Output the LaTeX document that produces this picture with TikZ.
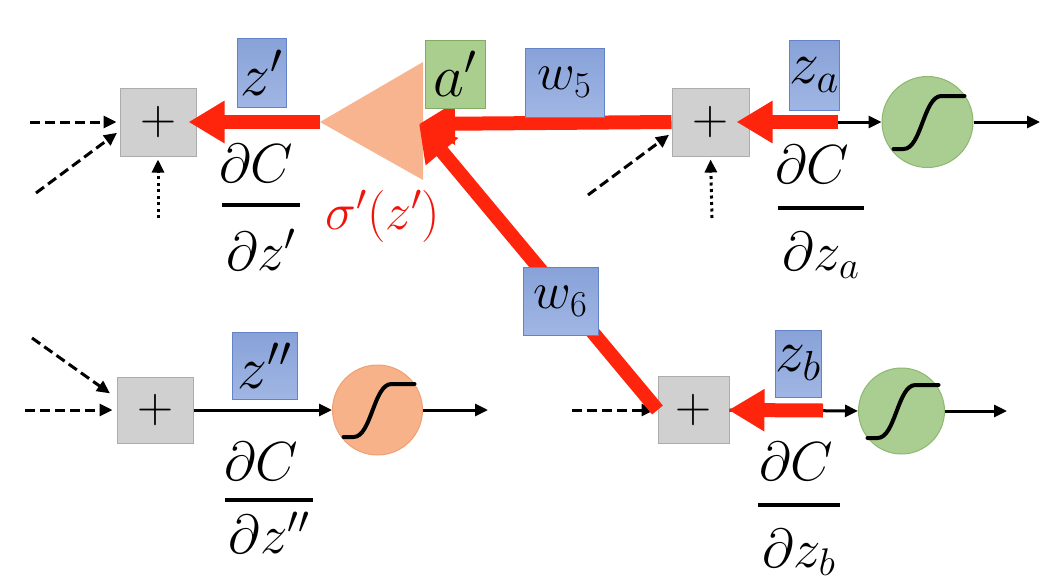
\RequirePackage{fix-cm}
\documentclass[tikz,border=0pt]{standalone}
\usetikzlibrary{arrows.meta,calc}
\definecolor{sumfill}{RGB}{208,208,208}
\definecolor{sumedge}{RGB}{172,172,172}
\definecolor{wtop}{RGB}{136,162,216}
\definecolor{wbot}{RGB}{160,182,228}
\definecolor{wedge}{RGB}{100,130,200}
\definecolor{afill}{RGB}{169,206,142}
\definecolor{aedge}{RGB}{128,172,100}
\definecolor{gcfill}{RGB}{170,205,145}
\definecolor{gcedge}{RGB}{140,184,112}
\definecolor{ocfill}{RGB}{247,178,138}
\definecolor{ocedge}{RGB}{238,160,115}
\definecolor{trifill}{RGB}{248,180,142}
\definecolor{bpred}{RGB}{255,36,12}
\definecolor{sigred}{RGB}{240,20,10}
\newcommand\mylab{\fontsize{60}{60}\selectfont}
\newcommand\mywlab{\fontsize{52}{52}\selectfont}
\newcommand\myfrac{\fontsize{55}{60}\selectfont}
\begin{document}
\begin{tikzpicture}[x=1pt,y=-1pt,
  sumbox/.style={draw=sumedge, fill=sumfill, line width=1pt, inner sep=0pt,
    minimum width=76pt, minimum height=68pt, font=\fontsize{50}{50}\selectfont},
  wbox/.style={draw=wedge, top color=wtop, bottom color=wbot, line width=1pt, inner sep=0pt},
  actbox/.style={draw=aedge, fill=afill, line width=1pt, inner sep=0pt},
  gcirc/.style={circle, draw=gcedge, fill=gcfill, line width=1pt, inner sep=0pt},
  ocirc/.style={circle, draw=ocedge, fill=ocfill, line width=1pt, inner sep=0pt},
  sigline/.style={line width=4pt, line cap=round},
  fwd/.style={line width=3pt, -{Triangle[length=13pt,width=12pt]}},
  dashedin/.style={fwd, dash pattern=on 10pt off 5pt},
  dottedin/.style={fwd, dash pattern=on 3pt off 3.5pt},
  back/.style={draw=bpred, line width=14pt, -{Triangle[length=36pt,width=40pt]}},
  numtext/.style={inner sep=0pt, font=\myfrac},
  dentext/.style={inner xsep=4pt, inner ysep=0pt, font=\myfrac},
  fracbar/.style={line width=4pt},
]
\useasboundingbox (0,0) rectangle (1060,581);

% summation units
\node[sumbox] (s1) at (158,122) {$+$};
\node[sumbox, minimum width=77pt] (s2) at (710.5,122) {$+$};
\node[sumbox, minimum width=71pt, minimum height=67pt] (s3) at (693.5,410) {$+$};
\node[sumbox, minimum height=66pt] (s4) at (155,410) {$+$};

% activation units
\node[gcirc, minimum size=91pt] (c2) at (927.5,122) {};
\node[gcirc, minimum size=86pt] (c3) at (901.5,411) {};
\node[ocirc, minimum size=90pt] (c4) at (377.5,410) {};
\foreach \c in {c2,c3,c4}{
  \draw[sigline, shift={(\c.center)}] (-34,27) -- (-24,27)
    .. controls (-6,27) and (-4,-26) .. (14,-26) -- (37,-26);
}

% amplifier triangle sigma'(z')
\coordinate (tri) at (320,122);
\fill[trifill] (tri) -- (423,62) -- (423,180) -- cycle;
\coordinate (aIn) at (419,124);

% free ends
\coordinate (i1a) at (30,122);
\coordinate (i1b) at (36,193);
\coordinate (i1c) at (158,218);
\coordinate (i2b) at (588,195);
\coordinate (i2c) at (712,218);
\coordinate (i3a) at (572,410);
\coordinate (i4a) at (25,410);
\coordinate (i4b) at (32,338);
\coordinate (o2) at (1040,122);
\coordinate (o3) at (1007,411);
\coordinate (o4) at (488,410);
\coordinate (za0) at (838,122);
\coordinate (zb0) at (823,410.5);

% forward connections
\draw[dashedin, shorten >=3pt] (i1a) -- (s1.west);
\draw[dashedin, shorten >=3pt] (i1b) -- ([yshift=-9pt]s1.west);
\draw[dottedin, shorten >=3pt] (i1c) -- (s1.south);
\draw[dashedin, shorten >=3pt] (i2b) -- ([yshift=-11pt]s2.west);
\draw[dottedin, shorten >=3pt] (i2c) -- (s2.south);
\draw[dashedin, shorten >=3pt] (i3a) -- (s3.west);
\draw[dashedin, shorten >=4pt] (i4a) -- (s4.west);
\draw[dashedin, shorten >=8pt] (i4b) -- ([yshift=12pt]s4.west);
\draw[fwd] (s2.east) -- (c2.west);
\draw[fwd] (c2.east) -- (o2);
\draw[fwd] (s3.east) -- (c3.west);
\draw[fwd] (c3.east) -- (o3);
\draw[fwd] (s4.east) -- (c4.west);
\draw[fwd] (c4.east) -- (o4);

% backward pass
\draw[back, shorten >=-8pt] (tri) -- (s1.east);
\draw[back] (s2.west) -- (aIn);
\draw[back] (s3.west) -- (aIn);
\draw[back, shorten >=-13pt] (za0) -- (s2.east);
\draw[back, shorten >=-1pt] (zb0) -- (s3.east);

% variable labels
\node[wbox, minimum width=49pt, minimum height=69pt, font=\mylab] (zp) at (261.5,72.5) {$z'$};
\node[actbox, minimum width=60pt, minimum height=68pt, font=\mylab] (ap) at (455,74) {$a'$};
\node[wbox, minimum width=79pt, minimum height=69pt, font=\mywlab] (w5) at (564.5,82.5) {$w_5$};
\node[wbox, minimum width=50pt, minimum height=70pt, font=\mylab] (za) at (814,75) {$z_a$};
\node[wbox, minimum width=75pt, minimum height=68pt, font=\mywlab] (w6) at (560.5,301) {$w_6$};
\node[wbox, minimum width=46pt, minimum height=67pt, font=\mylab] (zb) at (798,363.5) {$z_b$};
\node[wbox, minimum width=65pt, minimum height=67pt, font=\mylab] (zpp) at (264.5,365.5) {$z''$};

\node[text=sigred, inner sep=0pt, font=\fontsize{52}{52}\selectfont] (sg) at (383,216.5) {$\sigma'(z')$};

% gradients dC/dz
\coordinate (b1) at (261,205);
\node[numtext, anchor=base] (n1) at (256,182) {$\partial C$};
\node[dentext, anchor=base] (d1) at (261,270) {$\partial z'$};
\draw[fracbar] (d1.west |- b1) -- (d1.east |- b1);

\coordinate (b2) at (821,208);
\node[numtext, anchor=base] (n2) at (812,183) {$\partial C$};
\node[dentext, anchor=base] (d2) at (821,270) {$\partial z_a$};
\draw[fracbar] (d2.west |- b2) -- (d2.east |- b2);

\coordinate (b3) at (799,505);
\node[numtext, anchor=base] (n3) at (796,480) {$\partial C$};
\node[dentext, anchor=base] (d3) at (799,567) {$\partial z_b$};
\draw[fracbar] (d3.west |- b3) -- (d3.east |- b3);

\coordinate (b4) at (269,500);
\node[numtext, anchor=base] (n4) at (261,480) {$\partial C$};
\node[dentext, anchor=base] (d4) at (269,553) {$\partial z''$};
\draw[fracbar] (d4.west |- b4) -- (d4.east |- b4);
\end{tikzpicture}
\end{document}
